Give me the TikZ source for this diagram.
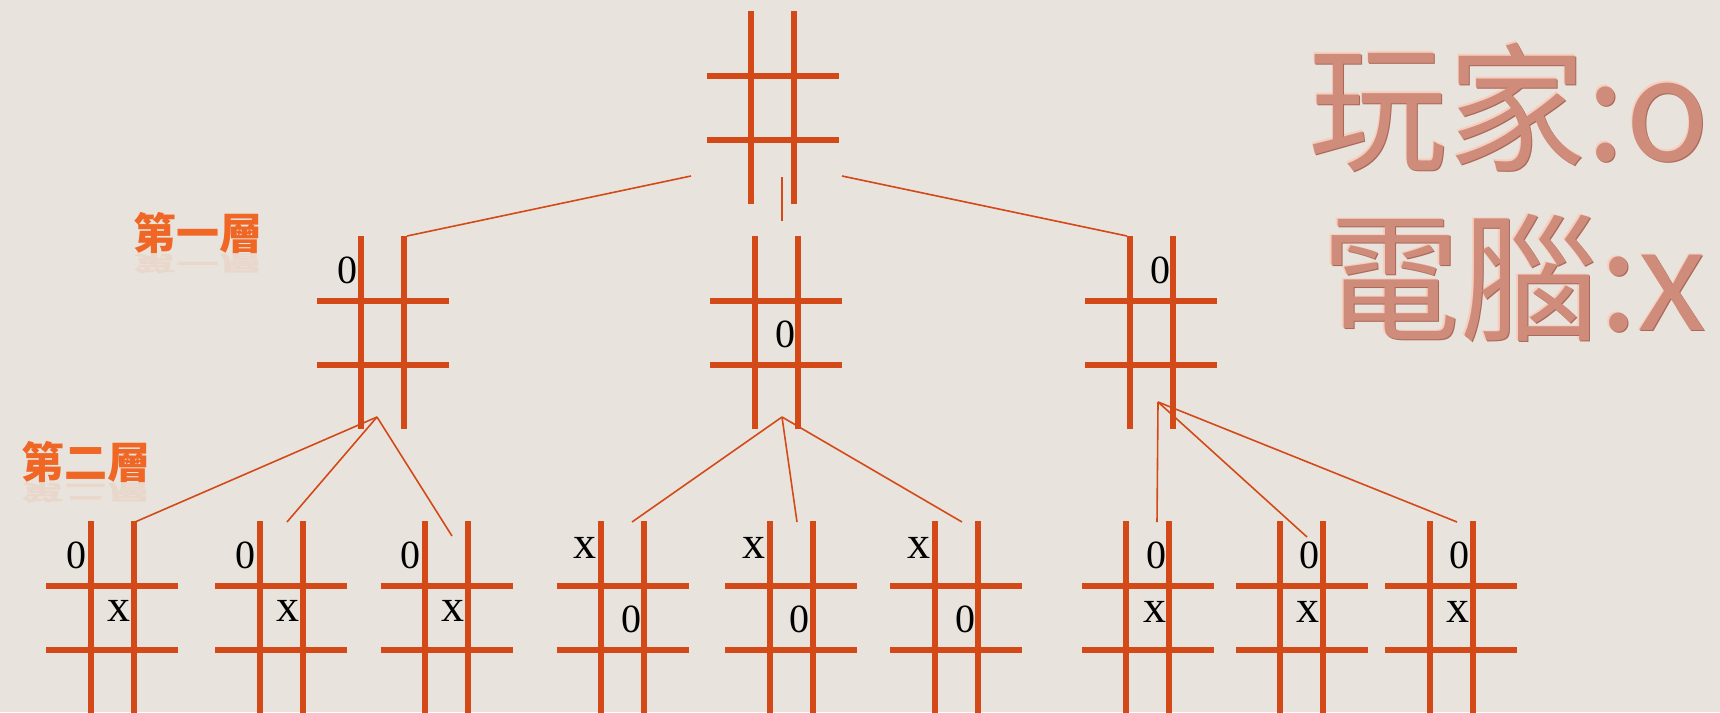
\documentclass[tikz,border=0pt]{standalone}
\usepackage{fontspec}
\setmainfont{Liberation Serif}
\newfontfamily\cjk{Noto Sans CJK TC}
\definecolor{bg}{RGB}{232,228,221}
\definecolor{brd}{RGB}{211,74,24}
\definecolor{lvl}{RGB}{240,102,36}
\definecolor{rose}{RGB}{208,140,122}
\definecolor{roseshadow}{RGB}{168,104,90}
\definecolor{rosehigh}{RGB}{246,206,190}
\begin{document}
\begin{tikzpicture}[x=1pt,y=-1pt,
  boardline/.style={draw=brd,line width=6pt},
  conn/.style={draw=brd,line width=1.6pt},
  symb/.style={inner sep=0pt,text=black,font=\fontsize{40}{40}\selectfont},
  symbx/.style={inner sep=0pt,text=black,font=\fontsize{46}{46}\selectfont},
  lvltext/.style={inner sep=0pt,text=lvl,font=\cjk\bfseries\fontsize{43}{43}\selectfont},
  lvlrefl/.style={lvltext,yscale=-0.5,opacity=0.1},
  bigtext/.style={inner sep=0pt,anchor=center,font=\cjk\fontsize{139}{139}\selectfont},
  board/.pic={
    \draw[boardline] (-21.5,0) -- (-21.5,193) (21.5,0) -- (21.5,193)
      (-66,65) -- (66,65) (-66,129) -- (66,129);
  }]
\useasboundingbox (0,0) rectangle (1720,712);
\fill[bg] (0,0) rectangle (1720,712);
\clip (0,0) rectangle (1720,712);

% boards
\pic (T) at (772.5,11) {board};
\pic (A) at (382.5,236) {board};
\pic (B) at (776,236) {board};
\pic (C) at (1151,236) {board};
\pic (b1) at (112,521) {board};
\pic (b2) at (281,521) {board};
\pic (b3) at (446.5,521) {board};
\pic (b4) at (622.5,521) {board};
\pic (b5) at (791,521) {board};
\pic (b6) at (956,521) {board};
\pic (b7) at (1147.5,521) {board};
\pic (b8) at (1301.5,521) {board};
\pic (b9) at (1451,521) {board};

% connector end points
\coordinate (Tl) at (691,176);
\coordinate (Tm) at (782,177);
\coordinate (Tr) at (842,176);
\coordinate (Ain) at (407,236);
\coordinate (Bin) at (782,221);
\coordinate (Cin) at (1127,236);
\coordinate (Aout) at (377,417);
\coordinate (Bout) at (782,417);
\coordinate (Cout) at (1158,402);
\coordinate (b1in) at (135,522);
\coordinate (b2in) at (287,522);
\coordinate (b3in) at (452,536);
\coordinate (b4in) at (632,522);
\coordinate (b5in) at (797,522);
\coordinate (b6in) at (962,522);
\coordinate (b7in) at (1157,522);
\coordinate (b8in) at (1307,537);
\coordinate (b9in) at (1457,522);

% connectors
\draw[conn] (Tl) -- (Ain);
\draw[conn] (Tm) -- (Bin);
\draw[conn] (Tr) -- (Cin);
\draw[conn] (Aout) -- (b1in);
\draw[conn] (Aout) -- (b2in);
\draw[conn] (Aout) -- (b3in);
\draw[conn] (Bout) -- (b4in);
\draw[conn] (Bout) -- (b5in);
\draw[conn] (Bout) -- (b6in);
\draw[conn] (Cout) -- (b7in);
\draw[conn] (Cout) -- (b8in);
\draw[conn] (Cout) -- (b9in);

% marks on level 1
\node[symb] (A0) at (347,270) {0};
\node[symb] (B0) at (785,334) {0};
\node[symb] (C0) at (1160,270) {0};

% marks on level 2
\node[symb] (b1o) at (76,555) {0};
\node[symbx] (b1x) at (119,611) {x};
\node[symb] (b2o) at (245.5,555) {0};
\node[symbx] (b2x) at (288,611) {x};
\node[symb] (b3o) at (410.5,555) {0};
\node[symbx] (b3x) at (453,611) {x};
\node[symbx] (b4x) at (585,548) {x};
\node[symb] (b4o) at (631,619) {0};
\node[symbx] (b5x) at (754,548) {x};
\node[symb] (b5o) at (799,619) {0};
\node[symbx] (b6x) at (919,548) {x};
\node[symb] (b6o) at (965,619) {0};
\node[symb] (b7o) at (1156,555) {0};
\node[symbx] (b7x) at (1155,612) {x};
\node[symb] (b8o) at (1309,555) {0};
\node[symbx] (b8x) at (1308,612) {x};
\node[symb] (b9o) at (1459,555) {0};
\node[symbx] (b9x) at (1458,612) {x};

% level labels with faint reflection
\node[lvlrefl] (L1r) at (198,264) {第一層};
\node[lvltext] (L1) at (198,233) {第一層};
\node[lvlrefl] (L2r) at (86,493) {第二層};
\node[lvltext] (L2) at (86,462) {第二層};

% legend (embossed look)
\node[bigtext,text=rosehigh] (P1h) at (1507.8,105.8) {玩家:o};
\node[bigtext,text=roseshadow] (P1s) at (1510.2,108.2) {玩家:o};
\node[bigtext,text=rose] (P1) at (1509,107) {玩家:o};
\node[bigtext,text=rosehigh] (P2h) at (1512.8,276.8) {電腦:x};
\node[bigtext,text=roseshadow] (P2s) at (1515.2,279.2) {電腦:x};
\node[bigtext,text=rose] (P2) at (1514,278) {電腦:x};
\end{tikzpicture}
\end{document}
